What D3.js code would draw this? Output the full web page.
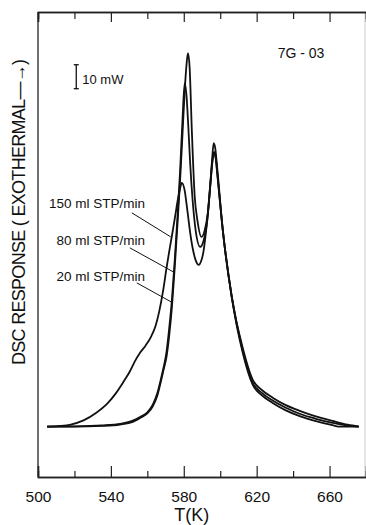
<!DOCTYPE html>
<html>
<head>
<meta charset="utf-8">
<script src="https://cdn.jsdelivr.net/npm/d3@7"></script>
<style>
  body { margin: 0; background: #fff; }
  svg text { font-family: "Liberation Sans", Arial, sans-serif; fill: #111; }
</style>
</head>
<body>
<div id="chart"></div>
<script>
// DSC traces, [T (K), response (mW above baseline)]
var flow150 = [[505,0],[512,0.3],[518,0.9],[525,2.6],[532,5.8],[538,9.6],[543,14.2],[547,18.8],[550.4,23],
  [553,27],[556,30.8],[559,33.8],[562,37.5],[564.5,42],[566.5,48],[568.5,56],[570.5,66],[572.2,74],[573.8,81],
  [575.3,88],[576.8,95],[578,99.5],[578.9,101.7],[580.5,98.5],[582,90],[583.5,81],[585,74],[586.5,69.5],[588.2,67.5],
  [589.5,69],[590.8,73],[592,80],[593.3,89.5],[594.5,101],[595.5,111],[596.4,118.3],[597.3,116],[598.1,110],
  [601.4,82.1],[606.3,54.2],[612.3,33],[617.8,19.6],[623,15.2],[629,12],[636,9],[643.6,6.6],[652,4.4],
  [661.6,2.4],[670,0.8],[676,0]]
var flow80 = [[505,0],[520,0.1],[535,0.5],[545,1.2],[552,2.5],[556,4],[560,6],[563,9.2],[565.5,14],[567.5,20],
  [569,25],[570.5,31],[572,41],[573.5,53],[575,69],[576.5,87],[578,107],[579.3,128],[580.5,143.3],[581.5,138],
  [582.5,125],[583.5,110],[584.8,95],[586.5,82],[589,75],[591,78],[593,87],[594.6,101],[595.7,111],[596.6,114.6],
  [597.6,112],[598.5,105],[601.4,82],[606.3,54.5],[612.3,31.8],[617.8,18.3],[623,14],[629,10.8],[636,7.9],
  [643.6,5.4],[652,3.4],[661.6,1.6],[670,0.4],[676,0]]
var flow20 = [[505,0],[520,0],[535,0.3],[545,0.9],[552,2],[556,3.6],[560,5.5],[563,8.5],[565.5,13],[567.5,19],
  [569,24],[570.5,29],[572,38],[573.5,50],[575,66],[576.5,84],[578,103],[579.3,122],[580.5,140],[581.5,151],
  [582.3,155.8],[583.2,150],[584.4,124],[586,96],[587.5,86],[589.7,79.2],[591.5,82],[593.2,89.2],[594.8,102.9],
  [595.8,111],[596.6,114],[597.5,112],[598.3,106],[601.4,82.1],[606.3,54.2],[612.3,31],[617.8,17.5],[623,13],
  [629,9.8],[636,6.8],[643.6,4.4],[652,2.4],[661.6,0.6],[666,0],[676,0]]

var series = [flow150, flow80, flow20]
var labels = ['150 ml STP/min', '80 ml STP/min', '20 ml STP/min']
// label baseline (right end) and leader line ends, in data units
var labelAt = [[558.7, 91.3], [558.7, 75.8], [558.7, 60.8]]
var leaderFrom = [[551.5, 89.2], [550.4, 74.6], [554.2, 60]]
var leaderTo = [[572.8, 79.2], [574.2, 64.6], [573.9, 51.7]]

var majorTicks = [500, 540, 580, 620, 660]
var minorTicks = [520, 560, 600, 640]

var width = 366, height = 525

var svg = d3.select('#chart').append('svg')
  .attr('width', width)
  .attr('height', height)

var x = d3.scaleLinear().domain([500, 680]).range([38, 366])
var y = d3.scaleLinear().domain([-21, 173]).range([477, 12])

// frame
svg.append('line').attr('x1', 38).attr('x2', 38).attr('y1', 12).attr('y2', 477)
  .attr('stroke', '#333').attr('stroke-width', 1.4)
svg.append('line').attr('x1', 365).attr('x2', 365).attr('y1', 12).attr('y2', 477)
  .attr('stroke', '#ccc').attr('stroke-width', 1)

function axis(gen, ticks, size, pos, showLabels) {
  var g = svg.append('g')
    .attr('transform', 'translate(0,' + pos + ')')
    .call(gen(x).tickValues(ticks).tickSize(size).tickPadding(14)
      .tickFormat(showLabels ? d3.format('d') : ''))
  g.select('.domain').attr('stroke', '#222').attr('stroke-width', 1.5)
  g.selectAll('.tick line').attr('stroke', '#222').attr('stroke-width', 1.2)
  g.selectAll('.tick text').attr('font-size', 15.5)
    .attr('font-family', '"Liberation Sans", Arial, sans-serif').attr('fill', '#111')
  return g
}
axis(d3.axisBottom, majorTicks, -11, 477, true)
axis(d3.axisBottom, minorTicks, -6, 477, false)
axis(d3.axisTop, majorTicks, -10, 12, false)
axis(d3.axisTop, minorTicks, -7, 12, false)

svg.append('text')
  .attr('x', x(580) + 8).attr('y', 521)
  .attr('text-anchor', 'middle')
  .attr('font-size', 18)
  .text('T(K)')

svg.append('text')
  .attr('transform', 'translate(25,' + 212 + ') rotate(-90)')
  .attr('text-anchor', 'middle')
  .attr('font-size', 18)
  .attr('textLength', 306)
  .attr('lengthAdjust', 'spacing')
  .text('DSC RESPONSE ( EXOTHERMAL\u2014\u2192)')

// curves
var line = d3.line()
  .x(function(d) {return x(d[0])})
  .y(function(d) {return y(d[1])})
  .curve(d3.curveMonotoneX)

svg.selectAll('.trace')
  .data(series)
  .enter()
  .append('path')
  .attr('class', 'trace')
  .attr('d', line)
  .attr('fill', 'none')
  .attr('stroke', '#111')
  .attr('stroke-width', 1.8)

// labels with leader lines
labels.forEach(function(t, i) {
  svg.append('text')
    .attr('x', x(labelAt[i][0])).attr('y', y(labelAt[i][1]))
    .attr('text-anchor', 'end')
    .attr('font-size', 13.5)
    .text(t)
  svg.append('line')
    .attr('x1', x(leaderFrom[i][0])).attr('y1', y(leaderFrom[i][1]))
    .attr('x2', x(leaderTo[i][0])).attr('y2', y(leaderTo[i][1]))
    .attr('stroke', '#111').attr('stroke-width', 1)
})

// 10 mW scale bar
var barT = 521, barLow = 141, barHigh = 151
svg.append('line')
  .attr('x1', x(barT)).attr('x2', x(barT)).attr('y1', y(barLow)).attr('y2', y(barHigh))
  .attr('stroke', '#111').attr('stroke-width', 1.3)
;[barLow, barHigh].forEach(function(v) {
  svg.append('line')
    .attr('x1', x(barT) - 2.5).attr('x2', x(barT) + 2.5).attr('y1', y(v)).attr('y2', y(v))
    .attr('stroke', '#111').attr('stroke-width', 1.3)
})
svg.append('text')
  .attr('x', x(barT) + 6).attr('y', y(barLow) - 5)
  .attr('font-size', 13)
  .text('10 mW')

svg.append('text')
  .attr('x', 301).attr('y', 58)
  .attr('text-anchor', 'middle')
  .attr('font-size', 14)
  .text('7G - 03')
</script>
</body>
</html>
